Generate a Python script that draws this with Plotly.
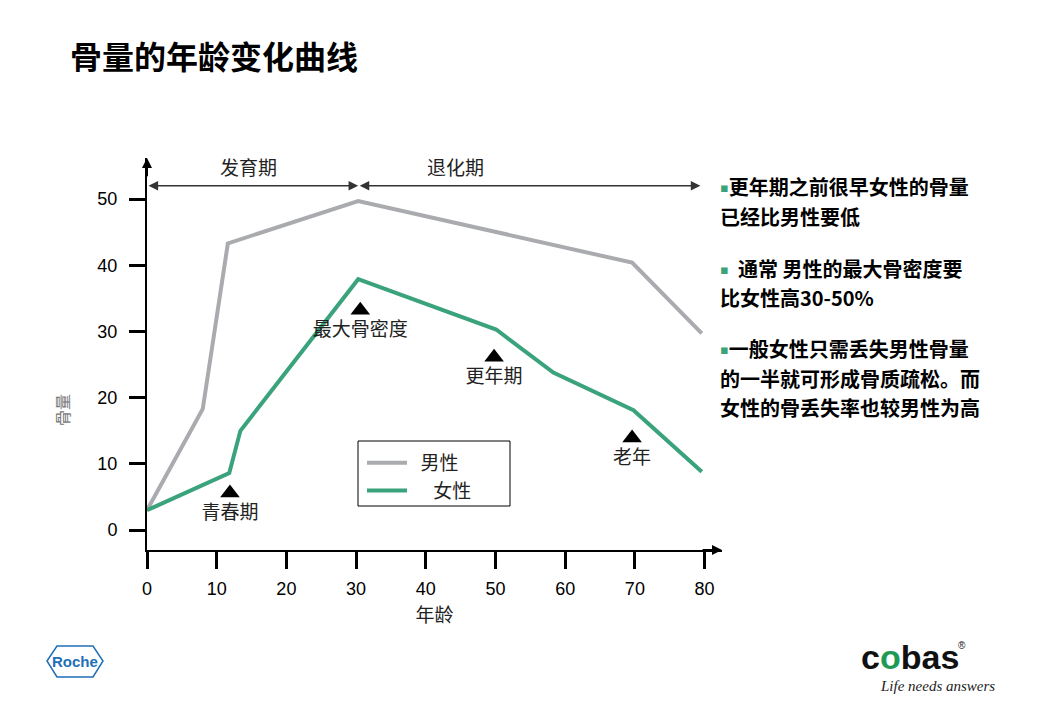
import plotly.graph_objects as go

# curve data (age, bone mass)
male_age = [0, 8, 11.6, 30.3, 69.6, 79.6]
male_mass = [3, 18.3, 43.3, 49.7, 40.4, 29.7]

female_age = [0, 11.8, 13.4, 30.3, 50.1, 58.3, 69.8, 79.6]
female_mass = [3, 8.6, 15, 37.9, 30.3, 23.8, 18.1, 8.8]

# life stage markers
stage_names = ['青春期', '最大骨密度', '更年期', '老年']
stage_age = [11.9, 30.6, 49.8, 69.6]
stage_mass = [5.6, 33.2, 26.1, 13.9]

# growth / decline phases
phase_names = ['发育期', '退化期']
phase_start = [0, 30.3]
phase_end = [30.3, 79.4]
phase_label_x = [14.5, 44.2]
phase_level = 52.0

BULLET = ('<span style="font-family:DejaVu Sans;font-size:13px;baseline-shift:3px;'
          'color:#3aa37c">▪</span>')
notes = [
    BULLET + '更年期之前很早女性的骨量',
    '已经比男性要低',
    BULLET + '\u00a0 通常 男性的最大骨密度要',
    '比女性高30-50%',
    BULLET + '一般女性只需丢失男性骨量',
    '的一半就可形成骨质疏松。而',
    '女性的骨丢失率也较男性为高',
]
note_y = [186, 216, 268, 297, 348, 378, 407]

GRAY = '#a9abae'
GREEN = '#3aa37c'
CJK = 'Noto Sans CJK SC'
ARIAL = 'Liberation Sans, Arial'

# plot area in reference pixels; the page adds an 8px body margin
PAD = 8
L, R, T, B = 147, 722, 158, 550
XMAX, YMIN, YMAX = 82.5, -3.0, 56.2


def px(x):
    return (x - L) / (R - L)


def py(y):
    return (B - y) / (B - T)


def note(x, y, text, font, **kw):
    d = dict(x=px(x), y=py(y), xref='paper', yref='paper', text=text, showarrow=False,
             xanchor='center', yanchor='middle', font=font)
    d.update(kw)
    return d


fig = go.Figure()
fig.add_trace(go.Scatter(x=male_age, y=male_mass, mode='lines', name='\u00a0\u00a0男性',
                         line=dict(color=GRAY, width=4)))
fig.add_trace(go.Scatter(x=female_age, y=female_mass, mode='lines',
                         name='\u00a0\u00a0\u00a0\u00a0\u00a0女性',
                         line=dict(color=GREEN, width=4)))
fig.add_trace(go.Scatter(x=stage_age, y=stage_mass, mode='markers+text', text=stage_names,
                         textposition='bottom center', showlegend=False,
                         marker=dict(symbol='triangle-up', size=17, color='black'),
                         textfont=dict(family=CJK, size=19, color='#222')))

annotations = []
for name, s, e, lx in zip(phase_names, phase_start, phase_end, phase_label_x):
    annotations.append(dict(x=e, y=phase_level, ax=s, ay=phase_level, xref='x', yref='y',
                            axref='x', ayref='y', text='', showarrow=True, arrowside='end+start',
                            arrowhead=2, startarrowhead=2, arrowsize=1.2, arrowwidth=1.6,
                            arrowcolor='#333'))
    annotations.append(dict(x=lx, y=phase_level, xref='x', yref='y', text=name,
                            showarrow=False, yshift=19,
                            font=dict(family=CJK, size=19, color='#222')))

# axis arrows
annotations.append(dict(x=0, y=YMAX, ax=0, ay=YMAX - 3, xref='x', yref='y', axref='x', ayref='y',
                        text='', showarrow=True, arrowhead=2, arrowsize=1, arrowwidth=2,
                        arrowcolor='black'))
annotations.append(dict(x=XMAX, y=YMIN, ax=XMAX - 3, ay=YMIN, xref='x', yref='y', axref='x',
                        ayref='y', text='', showarrow=True, arrowhead=2, arrowsize=1,
                        arrowwidth=2, arrowcolor='black'))

for txt, yy in zip(notes, note_y):
    annotations.append(note(718, yy, '<b>' + txt + '</b>',
                            dict(family=CJK, size=20, color='black'), xanchor='left'))

annotations += [
    note(68, 55, '<b>骨量的年龄变化曲线</b>', dict(family=CJK, size=32, color='black'),
         xanchor='left'),
    note(62, 410, '骨量', dict(family=CJK, size=16, color='#777'), textangle=-90),
    note(75, 661, '<b>Roche</b>',
         dict(family='Liberation Sans Narrow, Liberation Sans', size=15, color='#1f6fb6')),
    note(910, 657, '<b>c<span style="color:#1e9a55">o</span>bas</b>',
         dict(family=ARIAL, size=34, color='#111')),
    note(962, 645, '®', dict(family=ARIAL, size=10, color='#111')),
    note(937, 686, '<i>Life needs answers</i>',
         dict(family='Liberation Serif, serif', size=15, color='#222')),
]

shapes = [
    # legend frame
    dict(type='rect', xref='paper', yref='paper', x0=px(358), x1=px(510), y0=py(441), y1=py(506),
         line=dict(color='black', width=1)),
    # Roche hexagon
    dict(type='path', xref='paper', yref='paper',
         path='M {} {} L {} {} L {} {} L {} {} L {} {} L {} {} Z'.format(
             px(47), py(661), px(57), py(646), px(93), py(646), px(103), py(661),
             px(93), py(677), px(57), py(677)),
         line=dict(color='#1f6fb6', width=1.5)),
]

fig.update_layout(
    width=1040, height=720,
    margin=dict(l=L - PAD, r=1040 - R + PAD, t=T - PAD, b=720 - B + PAD),
    paper_bgcolor='white', plot_bgcolor='white',
    showlegend=True,
    legend=dict(x=px(362), y=py(444), xanchor='left', yanchor='top', bgcolor='rgba(0,0,0,0)',
                font=dict(family=CJK, size=19, color='#222'), itemwidth=40, tracegroupgap=0),
    xaxis=dict(range=[0, XMAX], tickvals=[0, 10, 20, 30, 40, 50, 60, 70, 80], showgrid=False,
               zeroline=False, showline=True, linecolor='black', linewidth=2, ticks='outside',
               ticklen=17, tickwidth=3, tickcolor='black', ticklabelstandoff=4,
               tickfont=dict(family=ARIAL, size=18, color='black'),
               title=dict(text='年龄', font=dict(family=CJK, size=19, color='#222'), standoff=11)),
    yaxis=dict(range=[YMIN, YMAX], tickvals=[0, 10, 20, 30, 40, 50], showgrid=False,
               zeroline=False, showline=True, linecolor='black', linewidth=2, ticks='outside',
               ticklen=16, tickwidth=3, tickcolor='black', ticklabelstandoff=8,
               tickfont=dict(family=ARIAL, size=18, color='black')),
    annotations=annotations,
    shapes=shapes,
)

fig.write_html('out.html')
